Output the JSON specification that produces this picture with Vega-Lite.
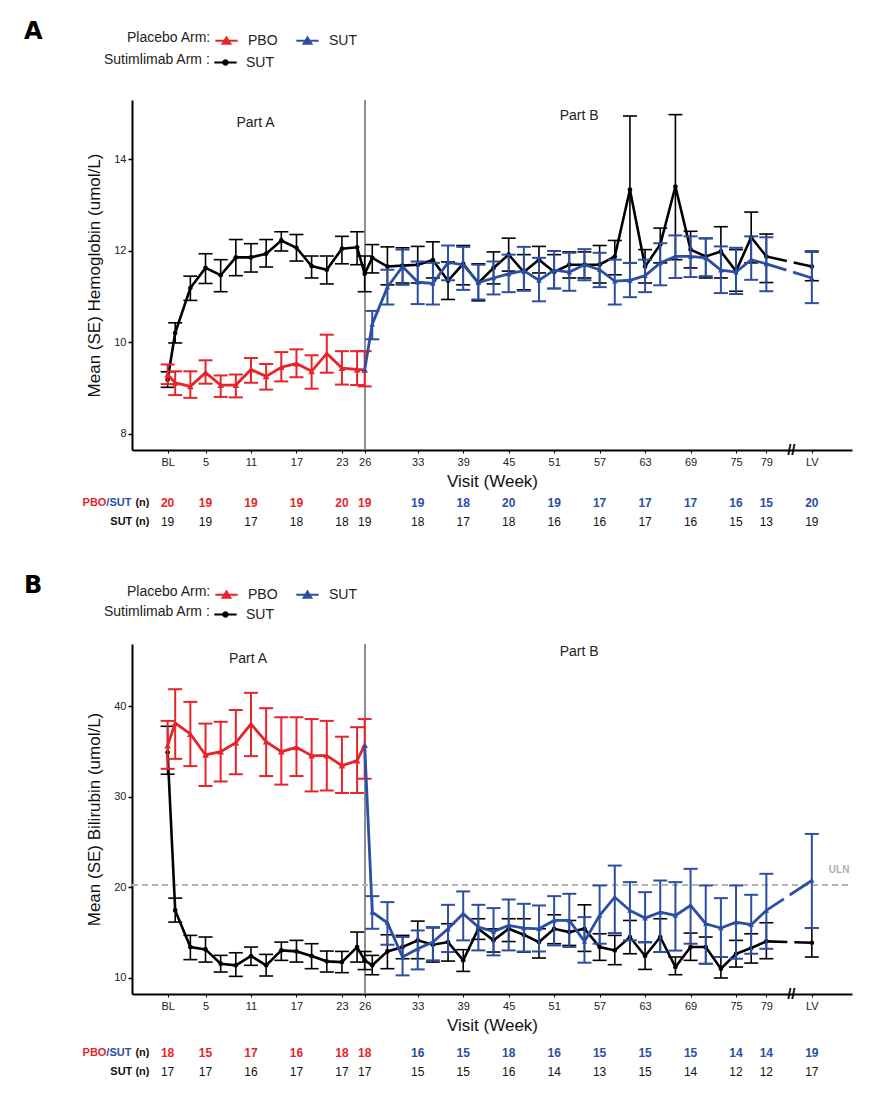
{
"$schema": "https://vega.github.io/schema/vega-lite/v6.json",
"padding": {"left": 24, "top": 20, "right": 5, "bottom": 5},
"background": "white",
"config": {"view": {"stroke": null}, "font": "Liberation Sans"},
"spacing": 43,
"resolve": {"scale": {"color": "shared", "stroke": "shared"}, "legend": {"color": "independent", "stroke": "independent"}},
"datasets": {
"hgb": [
{"week":0,"series":"SUT_A","mean":9.19,"lo":9.02,"hi":9.36},{"week":1,"series":"SUT_A","mean":10.21,"lo":9.99,"hi":10.43},{"week":3,"series":"SUT_A","mean":11.19,"lo":10.92,"hi":11.45},{"week":5,"series":"SUT_A","mean":11.63,"lo":11.29,"hi":11.94},{"week":7,"series":"SUT_A","mean":11.47,"lo":11.11,"hi":11.81},{"week":9,"series":"SUT_A","mean":11.86,"lo":11.46,"hi":12.25},{"week":11,"series":"SUT_A","mean":11.86,"lo":11.54,"hi":12.16},{"week":13,"series":"SUT_A","mean":11.94,"lo":11.65,"hi":12.25},{"week":15,"series":"SUT_A","mean":12.23,"lo":12.0,"hi":12.42},{"week":17,"series":"SUT_A","mean":12.07,"lo":11.78,"hi":12.36},{"week":19,"series":"SUT_A","mean":11.67,"lo":11.41,"hi":11.89},{"week":21,"series":"SUT_A","mean":11.59,"lo":11.28,"hi":11.89},{"week":23,"series":"SUT_A","mean":12.05,"lo":11.72,"hi":12.32},{"week":25,"series":"SUT_A","mean":12.08,"lo":11.7,"hi":12.42},{"week":26,"series":"SUT_A","mean":11.5,"lo":11.11,"hi":11.89},{"week":27,"series":"SUT_A","mean":11.85,"lo":11.52,"hi":12.14},{"week":29,"series":"SUT_A","mean":11.66,"lo":11.26,"hi":12.09},{"week":31,"series":"SUT_A","mean":11.68,"lo":11.3,"hi":12.07},{"week":33,"series":"SUT_A","mean":11.7,"lo":11.3,"hi":12.1},{"week":35,"series":"SUT_A","mean":11.8,"lo":11.41,"hi":12.2},{"week":37,"series":"SUT_A","mean":11.35,"lo":10.94,"hi":11.76},{"week":39,"series":"SUT_A","mean":11.72,"lo":11.26,"hi":12.12},{"week":41,"series":"SUT_A","mean":11.3,"lo":10.91,"hi":11.72},{"week":43,"series":"SUT_A","mean":11.63,"lo":11.28,"hi":11.98},{"week":45,"series":"SUT_A","mean":11.92,"lo":11.56,"hi":12.28},{"week":47,"series":"SUT_A","mean":11.54,"lo":11.15,"hi":11.92},{"week":49,"series":"SUT_A","mean":11.81,"lo":11.52,"hi":12.1},{"week":51,"series":"SUT_A","mean":11.54,"lo":11.18,"hi":11.92},{"week":53,"series":"SUT_A","mean":11.7,"lo":11.41,"hi":11.98},{"week":55,"series":"SUT_A","mean":11.7,"lo":11.41,"hi":11.98},{"week":57,"series":"SUT_A","mean":11.7,"lo":11.3,"hi":12.12},{"week":59,"series":"SUT_A","mean":11.88,"lo":11.48,"hi":12.23},{"week":61,"series":"SUT_A","mean":13.34,"lo":11.74,"hi":14.95},{"week":63,"series":"SUT_A","mean":11.66,"lo":11.3,"hi":12.03},{"week":65,"series":"SUT_A","mean":12.14,"lo":11.74,"hi":12.5},{"week":67,"series":"SUT_A","mean":13.41,"lo":11.81,"hi":14.98},{"week":69,"series":"SUT_A","mean":12.03,"lo":11.63,"hi":12.43},{"week":71,"series":"SUT_A","mean":11.88,"lo":11.41,"hi":12.28},{"week":73,"series":"SUT_A","mean":11.99,"lo":11.41,"hi":12.53},{"week":75,"series":"SUT_A","mean":11.56,"lo":11.12,"hi":12.03},{"week":77,"series":"SUT_A","mean":12.3,"lo":11.74,"hi":12.85},{"week":79,"series":"SUT_A","mean":11.88,"lo":11.31,"hi":12.37},{"week":85,"series":"SUT_A","mean":11.66,"lo":11.35,"hi":11.98},
{"week":0,"series":"PBO","mean":9.3,"lo":9.09,"hi":9.52},{"week":1,"series":"PBO","mean":9.12,"lo":8.85,"hi":9.37},{"week":3,"series":"PBO","mean":9.04,"lo":8.79,"hi":9.37},{"week":5,"series":"PBO","mean":9.34,"lo":9.1,"hi":9.61},{"week":7,"series":"PBO","mean":9.07,"lo":8.81,"hi":9.28},{"week":9,"series":"PBO","mean":9.07,"lo":8.8,"hi":9.3},{"week":11,"series":"PBO","mean":9.41,"lo":9.12,"hi":9.66},{"week":13,"series":"PBO","mean":9.26,"lo":8.97,"hi":9.53},{"week":15,"series":"PBO","mean":9.46,"lo":9.15,"hi":9.79},{"week":17,"series":"PBO","mean":9.54,"lo":9.24,"hi":9.85},{"week":19,"series":"PBO","mean":9.37,"lo":8.99,"hi":9.72},{"week":21,"series":"PBO","mean":9.76,"lo":9.34,"hi":10.17},{"week":23,"series":"PBO","mean":9.44,"lo":9.08,"hi":9.81},{"week":25,"series":"PBO","mean":9.41,"lo":9.07,"hi":9.81},{"week":26,"series":"PBO","mean":9.4,"lo":9.04,"hi":9.81},
{"week":26,"series":"SUT_B","mean":9.4,"lo":null,"hi":null},{"week":27,"series":"SUT_B","mean":10.4,"lo":10.07,"hi":10.69},{"week":29,"series":"SUT_B","mean":11.21,"lo":10.83,"hi":11.59},{"week":31,"series":"SUT_B","mean":11.66,"lo":11.26,"hi":12.03},{"week":33,"series":"SUT_B","mean":11.32,"lo":10.84,"hi":11.77},{"week":35,"series":"SUT_B","mean":11.29,"lo":10.83,"hi":11.74},{"week":37,"series":"SUT_B","mean":11.75,"lo":11.36,"hi":12.12},{"week":39,"series":"SUT_B","mean":11.7,"lo":11.15,"hi":12.09},{"week":41,"series":"SUT_B","mean":11.31,"lo":10.94,"hi":11.7},{"week":43,"series":"SUT_B","mean":11.41,"lo":11.05,"hi":11.77},{"week":45,"series":"SUT_B","mean":11.5,"lo":11.1,"hi":11.92},{"week":47,"series":"SUT_B","mean":11.57,"lo":11.13,"hi":12.09},{"week":49,"series":"SUT_B","mean":11.36,"lo":10.9,"hi":11.85},{"week":51,"series":"SUT_B","mean":11.58,"lo":11.18,"hi":12.0},{"week":53,"series":"SUT_B","mean":11.54,"lo":11.13,"hi":11.96},{"week":55,"series":"SUT_B","mean":11.7,"lo":11.36,"hi":12.04},{"week":57,"series":"SUT_B","mean":11.59,"lo":11.21,"hi":11.96},{"week":59,"series":"SUT_B","mean":11.34,"lo":10.83,"hi":11.81},{"week":61,"series":"SUT_B","mean":11.36,"lo":10.99,"hi":11.74},{"week":63,"series":"SUT_B","mean":11.46,"lo":11.1,"hi":11.81},{"week":65,"series":"SUT_B","mean":11.74,"lo":11.25,"hi":12.17},{"week":67,"series":"SUT_B","mean":11.88,"lo":11.41,"hi":12.34},{"week":69,"series":"SUT_B","mean":11.88,"lo":11.43,"hi":12.32},{"week":71,"series":"SUT_B","mean":11.85,"lo":11.45,"hi":12.27},{"week":73,"series":"SUT_B","mean":11.58,"lo":11.08,"hi":12.1},{"week":75,"series":"SUT_B","mean":11.54,"lo":11.06,"hi":12.07},{"week":77,"series":"SUT_B","mean":11.81,"lo":11.37,"hi":12.32},{"week":79,"series":"SUT_B","mean":11.72,"lo":11.12,"hi":12.3},{"week":85,"series":"SUT_B","mean":11.41,"lo":10.86,"hi":12.0}
],
"bili": [
{"week":0,"series":"SUT_A","mean":34.92,"lo":32.5,"hi":37.8},{"week":1,"series":"SUT_A","mean":17.44,"lo":16.15,"hi":18.8},{"week":3,"series":"SUT_A","mean":13.39,"lo":12.0,"hi":14.68},{"week":5,"series":"SUT_A","mean":13.13,"lo":11.73,"hi":14.5},{"week":7,"series":"SUT_A","mean":11.55,"lo":10.63,"hi":12.47},{"week":9,"series":"SUT_A","mean":11.37,"lo":10.15,"hi":12.76},{"week":11,"series":"SUT_A","mean":12.4,"lo":11.37,"hi":13.39},{"week":13,"series":"SUT_A","mean":11.37,"lo":10.19,"hi":12.58},{"week":15,"series":"SUT_A","mean":13.02,"lo":11.92,"hi":13.94},{"week":17,"series":"SUT_A","mean":12.91,"lo":11.73,"hi":14.13},{"week":19,"series":"SUT_A","mean":12.4,"lo":11.0,"hi":13.76},{"week":21,"series":"SUT_A","mean":11.81,"lo":10.63,"hi":12.95},{"week":23,"series":"SUT_A","mean":11.73,"lo":10.56,"hi":12.91},{"week":25,"series":"SUT_A","mean":13.39,"lo":11.73,"hi":15.05},{"week":26,"series":"SUT_A","mean":11.92,"lo":10.9,"hi":12.9},{"week":27,"series":"SUT_A","mean":11.37,"lo":10.33,"hi":12.47},{"week":29,"series":"SUT_A","mean":12.91,"lo":11.0,"hi":14.75},{"week":31,"series":"SUT_A","mean":13.39,"lo":12.1,"hi":14.68},{"week":33,"series":"SUT_A","mean":14.13,"lo":12.1,"hi":16.26},{"week":35,"series":"SUT_A","mean":13.65,"lo":11.73,"hi":15.52},{"week":37,"series":"SUT_A","mean":13.94,"lo":11.84,"hi":15.97},{"week":39,"series":"SUT_A","mean":11.92,"lo":10.7,"hi":13.1},{"week":41,"series":"SUT_A","mean":15.41,"lo":14.24,"hi":16.52},{"week":43,"series":"SUT_A","mean":14.13,"lo":12.84,"hi":15.41},{"week":45,"series":"SUT_A","mean":15.41,"lo":14.0,"hi":16.52},{"week":47,"series":"SUT_A","mean":14.75,"lo":12.84,"hi":16.52},{"week":49,"series":"SUT_A","mean":13.94,"lo":12.18,"hi":15.41},{"week":51,"series":"SUT_A","mean":15.41,"lo":13.76,"hi":16.96},{"week":53,"series":"SUT_A","mean":15.05,"lo":13.57,"hi":16.33},{"week":55,"series":"SUT_A","mean":15.41,"lo":12.91,"hi":18.06},{"week":57,"series":"SUT_A","mean":13.39,"lo":11.92,"hi":14.86},{"week":59,"series":"SUT_A","mean":13.02,"lo":11.44,"hi":14.68},{"week":61,"series":"SUT_A","mean":14.5,"lo":12.65,"hi":16.33},{"week":63,"series":"SUT_A","mean":12.4,"lo":10.92,"hi":13.94},{"week":65,"series":"SUT_A","mean":14.5,"lo":12.84,"hi":16.52},{"week":67,"series":"SUT_A","mean":11.18,"lo":10.33,"hi":12.29},{"week":69,"series":"SUT_A","mean":13.39,"lo":11.92,"hi":14.94},{"week":71,"series":"SUT_A","mean":13.39,"lo":11.55,"hi":14.5},{"week":73,"series":"SUT_A","mean":11.0,"lo":9.97,"hi":12.29},{"week":75,"series":"SUT_A","mean":12.65,"lo":11.18,"hi":14.13},{"week":77,"series":"SUT_A","mean":13.28,"lo":11.62,"hi":14.86},{"week":79,"series":"SUT_A","mean":14.02,"lo":12.1,"hi":16.08},{"week":85,"series":"SUT_A","mean":13.87,"lo":12.29,"hi":15.49},
{"week":0,"series":"PBO","mean":35.66,"lo":33.1,"hi":38.4},{"week":1,"series":"PBO","mean":38.16,"lo":34.2,"hi":41.9},{"week":3,"series":"PBO","mean":36.95,"lo":33.4,"hi":40.5},{"week":5,"series":"PBO","mean":34.63,"lo":31.2,"hi":38.1},{"week":7,"series":"PBO","mean":35.0,"lo":31.7,"hi":38.3},{"week":9,"series":"PBO","mean":36.0,"lo":32.5,"hi":39.6},{"week":11,"series":"PBO","mean":38.05,"lo":34.5,"hi":41.5},{"week":13,"series":"PBO","mean":36.1,"lo":32.3,"hi":39.8},{"week":15,"series":"PBO","mean":35.0,"lo":31.35,"hi":38.8},{"week":17,"series":"PBO","mean":35.47,"lo":32.3,"hi":38.8},{"week":19,"series":"PBO","mean":34.55,"lo":30.6,"hi":38.6},{"week":21,"series":"PBO","mean":34.55,"lo":30.7,"hi":38.4},{"week":23,"series":"PBO","mean":33.45,"lo":30.43,"hi":36.65},{"week":25,"series":"PBO","mean":34.0,"lo":30.43,"hi":37.7},{"week":26,"series":"PBO","mean":35.73,"lo":32.0,"hi":38.6},
{"week":26,"series":"SUT_B","mean":35.73,"lo":null,"hi":null},{"week":27,"series":"SUT_B","mean":17.25,"lo":15.41,"hi":19.02},{"week":29,"series":"SUT_B","mean":16.08,"lo":13.65,"hi":18.36},{"week":31,"series":"SUT_B","mean":12.29,"lo":10.26,"hi":14.5},{"week":33,"series":"SUT_B","mean":13.2,"lo":10.92,"hi":15.23},{"week":35,"series":"SUT_B","mean":13.94,"lo":11.92,"hi":15.6},{"week":37,"series":"SUT_B","mean":15.41,"lo":12.84,"hi":18.06},{"week":39,"series":"SUT_B","mean":17.07,"lo":14.13,"hi":19.54},{"week":41,"series":"SUT_B","mean":15.6,"lo":13.02,"hi":18.06},{"week":43,"series":"SUT_B","mean":15.12,"lo":12.47,"hi":17.7},{"week":45,"series":"SUT_B","mean":15.78,"lo":13.02,"hi":18.65},{"week":47,"series":"SUT_B","mean":15.49,"lo":12.9,"hi":18.17},{"week":49,"series":"SUT_B","mean":15.41,"lo":12.9,"hi":17.99},{"week":51,"series":"SUT_B","mean":16.33,"lo":13.57,"hi":19.02},{"week":53,"series":"SUT_B","mean":16.33,"lo":13.4,"hi":19.28},{"week":55,"series":"SUT_B","mean":14.02,"lo":11.66,"hi":16.7},{"week":57,"series":"SUT_B","mean":16.89,"lo":13.76,"hi":20.2},{"week":59,"series":"SUT_B","mean":18.91,"lo":14.94,"hi":22.4},{"week":61,"series":"SUT_B","mean":17.44,"lo":14.13,"hi":20.57},{"week":63,"series":"SUT_B","mean":16.59,"lo":13.9,"hi":19.46},{"week":65,"series":"SUT_B","mean":17.25,"lo":12.84,"hi":20.75},{"week":67,"series":"SUT_B","mean":16.89,"lo":13.0,"hi":20.57},{"week":69,"series":"SUT_B","mean":17.99,"lo":13.76,"hi":22.04},{"week":71,"series":"SUT_B","mean":15.97,"lo":11.55,"hi":20.2},{"week":73,"series":"SUT_B","mean":15.49,"lo":12.29,"hi":18.8},{"week":75,"series":"SUT_B","mean":16.15,"lo":12.1,"hi":20.2},{"week":77,"series":"SUT_B","mean":15.86,"lo":12.65,"hi":19.17},{"week":79,"series":"SUT_B","mean":17.44,"lo":13.2,"hi":21.49},{"week":85,"series":"SUT_B","mean":20.75,"lo":15.49,"hi":25.9}
],
"annA": [{"week":11.6,"mean":14.8,"label":"Part A","kind":"part"},{"week":54.3,"mean":14.95,"label":"Part B","kind":"part"},{"week":82.3,"mean":7.65,"label":"//","kind":"brk"}],
"annB": [{"week":10.6,"mean":45.2,"label":"Part A","kind":"part"},{"week":54.3,"mean":46.0,"label":"Part B","kind":"part"},{"week":88.6,"mean":21.9,"label":"ULN","kind":"uln"},{"week":82.3,"mean":8.2,"label":"//","kind":"brk"}],
"nA": [
{"week":0,"row":"PBO/SUT (n)","n":20,"grp":"PBO"},{"week":5,"row":"PBO/SUT (n)","n":19,"grp":"PBO"},{"week":11,"row":"PBO/SUT (n)","n":19,"grp":"PBO"},{"week":17,"row":"PBO/SUT (n)","n":19,"grp":"PBO"},{"week":23,"row":"PBO/SUT (n)","n":20,"grp":"PBO"},{"week":26,"row":"PBO/SUT (n)","n":19,"grp":"PBO"},{"week":33,"row":"PBO/SUT (n)","n":19,"grp":"SUT_B"},{"week":39,"row":"PBO/SUT (n)","n":18,"grp":"SUT_B"},{"week":45,"row":"PBO/SUT (n)","n":20,"grp":"SUT_B"},{"week":51,"row":"PBO/SUT (n)","n":19,"grp":"SUT_B"},{"week":57,"row":"PBO/SUT (n)","n":17,"grp":"SUT_B"},{"week":63,"row":"PBO/SUT (n)","n":17,"grp":"SUT_B"},{"week":69,"row":"PBO/SUT (n)","n":17,"grp":"SUT_B"},{"week":75,"row":"PBO/SUT (n)","n":16,"grp":"SUT_B"},{"week":79,"row":"PBO/SUT (n)","n":15,"grp":"SUT_B"},{"week":85,"row":"PBO/SUT (n)","n":20,"grp":"SUT_B"},
{"week":0,"row":"SUT (n)","n":19,"grp":"SUT_A"},{"week":5,"row":"SUT (n)","n":19,"grp":"SUT_A"},{"week":11,"row":"SUT (n)","n":17,"grp":"SUT_A"},{"week":17,"row":"SUT (n)","n":18,"grp":"SUT_A"},{"week":23,"row":"SUT (n)","n":18,"grp":"SUT_A"},{"week":26,"row":"SUT (n)","n":19,"grp":"SUT_A"},{"week":33,"row":"SUT (n)","n":18,"grp":"SUT_A"},{"week":39,"row":"SUT (n)","n":17,"grp":"SUT_A"},{"week":45,"row":"SUT (n)","n":18,"grp":"SUT_A"},{"week":51,"row":"SUT (n)","n":16,"grp":"SUT_A"},{"week":57,"row":"SUT (n)","n":16,"grp":"SUT_A"},{"week":63,"row":"SUT (n)","n":17,"grp":"SUT_A"},{"week":69,"row":"SUT (n)","n":16,"grp":"SUT_A"},{"week":75,"row":"SUT (n)","n":15,"grp":"SUT_A"},{"week":79,"row":"SUT (n)","n":13,"grp":"SUT_A"},{"week":85,"row":"SUT (n)","n":19,"grp":"SUT_A"}
],
"nB": [
{"week":0,"row":"PBO/SUT (n)","n":18,"grp":"PBO"},{"week":5,"row":"PBO/SUT (n)","n":15,"grp":"PBO"},{"week":11,"row":"PBO/SUT (n)","n":17,"grp":"PBO"},{"week":17,"row":"PBO/SUT (n)","n":16,"grp":"PBO"},{"week":23,"row":"PBO/SUT (n)","n":18,"grp":"PBO"},{"week":26,"row":"PBO/SUT (n)","n":18,"grp":"PBO"},{"week":33,"row":"PBO/SUT (n)","n":16,"grp":"SUT_B"},{"week":39,"row":"PBO/SUT (n)","n":15,"grp":"SUT_B"},{"week":45,"row":"PBO/SUT (n)","n":18,"grp":"SUT_B"},{"week":51,"row":"PBO/SUT (n)","n":16,"grp":"SUT_B"},{"week":57,"row":"PBO/SUT (n)","n":15,"grp":"SUT_B"},{"week":63,"row":"PBO/SUT (n)","n":15,"grp":"SUT_B"},{"week":69,"row":"PBO/SUT (n)","n":15,"grp":"SUT_B"},{"week":75,"row":"PBO/SUT (n)","n":14,"grp":"SUT_B"},{"week":79,"row":"PBO/SUT (n)","n":14,"grp":"SUT_B"},{"week":85,"row":"PBO/SUT (n)","n":19,"grp":"SUT_B"},
{"week":0,"row":"SUT (n)","n":17,"grp":"SUT_A"},{"week":5,"row":"SUT (n)","n":17,"grp":"SUT_A"},{"week":11,"row":"SUT (n)","n":16,"grp":"SUT_A"},{"week":17,"row":"SUT (n)","n":17,"grp":"SUT_A"},{"week":23,"row":"SUT (n)","n":17,"grp":"SUT_A"},{"week":26,"row":"SUT (n)","n":17,"grp":"SUT_A"},{"week":33,"row":"SUT (n)","n":15,"grp":"SUT_A"},{"week":39,"row":"SUT (n)","n":15,"grp":"SUT_A"},{"week":45,"row":"SUT (n)","n":16,"grp":"SUT_A"},{"week":51,"row":"SUT (n)","n":14,"grp":"SUT_A"},{"week":57,"row":"SUT (n)","n":13,"grp":"SUT_A"},{"week":63,"row":"SUT (n)","n":15,"grp":"SUT_A"},{"week":69,"row":"SUT (n)","n":14,"grp":"SUT_A"},{"week":75,"row":"SUT (n)","n":12,"grp":"SUT_A"},{"week":79,"row":"SUT (n)","n":12,"grp":"SUT_A"},{"week":85,"row":"SUT (n)","n":17,"grp":"SUT_A"}
],
"rowlab": [{"row":"PBO/SUT (n)","part":"a","text":"PBO","grp":"PBO"},{"row":"PBO/SUT (n)","part":"b","text":"/SUT","grp":"SUT_B"},{"row":"PBO/SUT (n)","part":"c","text":"(n)","grp":"SUT_A"},{"row":"SUT (n)","part":"c","text":"SUT (n)","grp":"SUT_A"}]
},
"vconcat": [
{"spacing": 4,
 "resolve": {"scale": {"color": "shared", "stroke": "shared"}, "legend": {"color": "independent", "stroke": "independent"}},
 "vconcat": [
 {"title": {"text": "A", "anchor": "start", "frame": "group", "fontSize": 24, "fontWeight": 900, "font": "DejaVu Sans", "color": "#000", "dx": -108, "dy": 20},
  "width": 720, "height": 350,
  "data": {"name": "hgb"},
  "encoding": {
   "x": {"field": "week", "type": "quantitative", "title": "Visit (Week)", "scale": {"domain": [-4.7, 90.3], "nice": false, "zero": false},
     "axis": {"values": [0,5,11,17,23,26,33,39,45,51,57,63,69,75,79,85], "labelExpr": "datum.value == 0 ? 'BL' : (datum.value == 85 ? 'LV' : datum.label)", "grid": false, "domainColor": "#000", "domainWidth": 2, "tickColor": "#000", "tickSize": 3, "labelFont": "Liberation Sans Narrow, Liberation Sans", "labelFontSize": 11, "labelColor": "#222", "labelPadding": 3, "labelOverlap": false, "labelFlush": false, "titleFont": "Liberation Sans Narrow, Liberation Sans", "titleFontSize": 17, "titleFontWeight": "normal", "titleColor": "#111", "titlePadding": 6}},
   "y": {"field": "mean", "type": "quantitative", "title": "Mean (SE) Hemoglobin (umol/L)", "scale": {"domain": [7.65, 15.3], "nice": false, "zero": false},
     "axis": {"values": [8,10,12,14], "grid": false, "domainColor": "#000", "domainWidth": 2, "tickColor": "#000", "tickSize": 4, "tickWidth": 1.5, "labelFont": "Liberation Sans Narrow, Liberation Sans", "labelFontSize": 11, "labelColor": "#222", "titleFont": "Liberation Sans", "titleFontSize": 17, "titleFontWeight": "normal", "titleColor": "#111", "titlePadding": 10}}
  },
  "layer": [
   {"mark": {"type": "rule", "color": "#8f8f8f", "strokeWidth": 1.2}, "encoding": {"x": {"datum": 26, "type": "quantitative"}, "y": {"datum": 7.65, "type": "quantitative"}, "y2": {"datum": 15.3}}},
   {"data": {"name": "annA"}, "transform": [{"filter": "datum.kind == 'part'"}], "mark": {"type": "text", "fontSize": 14, "font": "Liberation Sans", "color": "#222"}, "encoding": {"text": {"field": "label"}}},
   {"transform": [{"filter": "datum.series == 'SUT_A'"}], "mark": {"type": "errorbar", "ticks": true, "size": 14, "thickness": 1.6}, "encoding": {"y": {"field": "lo", "type": "quantitative", "title": "Mean (SE) Hemoglobin (umol/L)", "scale": {"domain": [7.65, 15.3], "nice": false, "zero": false}}, "y2": {"field": "hi"}, "color": {"value": "#000000"}, "opacity": {"value": 1}}},
   {"transform": [{"filter": "datum.series == 'SUT_A' && datum.week <= 79"}], "mark": {"type": "line", "strokeWidth": 2.6}, "encoding": {"stroke": {"field": "series", "type": "nominal", "scale": {"domain": ["SUT_A"], "range": ["#000000"]}, "legend": {"title": "Sutimlimab Arm :", "orient": "none", "legendX": -28, "legendY": -50, "direction": "horizontal", "titleOrient": "left", "labelExpr": "'SUT'", "symbolType": "M-1,0H1M-0.2,0A0.2,0.2 0 1,0 0.2,0A0.2,0.2 0 1,0 -0.2,0", "symbolSize": 500, "symbolStrokeWidth": 2, "titleFont": "Liberation Sans", "titleFontSize": 14, "titleFontWeight": "normal", "titleColor": "#222", "labelFont": "Liberation Sans", "labelFontSize": 14, "labelColor": "#222", "labelOffset": 8, "titlePadding": 2, "encode": {"symbols": {"update": {"fill": {"value": "#000000"}, "stroke": {"value": "#000000"}}}}}}}},
   {"transform": [{"filter": "datum.series == 'SUT_A' && datum.week >= 79"}], "mark": {"type": "line", "strokeWidth": 2.6, "color": "#000000", "strokeDash": [21, 7, 100]}},
   {"transform": [{"filter": "datum.series == 'SUT_A'"}], "mark": {"type": "point", "shape": "circle", "filled": true, "size": 22, "color": "#000000", "opacity": 1}},
   {"transform": [{"filter": "datum.series == 'PBO'"}], "mark": {"type": "errorbar", "ticks": true, "size": 14, "thickness": 2}, "encoding": {"y": {"field": "lo", "type": "quantitative", "title": "Mean (SE) Hemoglobin (umol/L)", "scale": {"domain": [7.65, 15.3], "nice": false, "zero": false}}, "y2": {"field": "hi"}, "color": {"value": "#e8242b"}, "opacity": {"value": 1}}},
   {"transform": [{"filter": "datum.series == 'SUT_B' && isValid(datum.lo)"}], "mark": {"type": "errorbar", "ticks": true, "size": 14, "thickness": 2}, "encoding": {"y": {"field": "lo", "type": "quantitative", "title": "Mean (SE) Hemoglobin (umol/L)", "scale": {"domain": [7.65, 15.3], "nice": false, "zero": false}}, "y2": {"field": "hi"}, "color": {"value": "#2c4ea3"}, "opacity": {"value": 1}}},
   {"transform": [{"filter": "(datum.series == 'PBO' || datum.series == 'SUT_B') && datum.week <= 79"}], "mark": {"type": "line", "strokeWidth": 2.8}, "encoding": {"color": {"field": "series", "type": "nominal", "scale": {"domain": ["PBO", "SUT_B", "SUT_A"], "range": ["#e8242b", "#2c4ea3", "#000000"]}, "legend": {"title": "Placebo Arm:", "orient": "none", "legendX": -5, "legendY": -72, "direction": "horizontal", "titleOrient": "left", "values": ["PBO", "SUT_B"], "labelExpr": "datum.value == 'PBO' ? 'PBO' : 'SUT'", "symbolType": "M-1,0H1M-0.35,0.28L0,-0.3L0.35,0.28Z", "symbolSize": 500, "symbolStrokeWidth": 2, "titleFont": "Liberation Sans", "titleFontSize": 14, "titleFontWeight": "normal", "titleColor": "#222", "labelFont": "Liberation Sans", "labelFontSize": 14, "labelColor": "#222", "labelOffset": 9, "columnPadding": 14, "titlePadding": 2, "encode": {"symbols": {"update": {"fill": {"scale": "color", "field": "value"}, "stroke": {"scale": "color", "field": "value"}}}}}}}},
   {"transform": [{"filter": "datum.series == 'SUT_B' && datum.week >= 79"}], "mark": {"type": "line", "strokeWidth": 2.8, "color": "#2c4ea3", "strokeDash": [21, 7, 100]}},
   {"transform": [{"filter": "datum.series == 'PBO'"}], "mark": {"type": "point", "shape": "triangle-up", "filled": true, "size": 45, "color": "#e8242b", "opacity": 1}},
   {"transform": [{"filter": "datum.series == 'SUT_B'"}], "mark": {"type": "point", "shape": "triangle-up", "filled": true, "size": 30, "color": "#2c4ea3", "opacity": 1}},
   {"data": {"name": "annA"}, "transform": [{"filter": "datum.kind == 'brk'"}], "mark": {"type": "text", "fontSize": 15, "fontWeight": "bold", "font": "Liberation Sans", "color": "#000"}, "encoding": {"text": {"field": "label"}}}
  ]
 },
 {"width": 720, "height": 38,
  "layer": [
   {"data": {"name": "nA"}, "transform": [{"filter": "datum.row == 'PBO/SUT (n)'"}], "mark": {"type": "text", "fontSize": 12, "fontWeight": "bold", "font": "Liberation Sans"}, "encoding": {"x": {"field": "week", "type": "quantitative", "scale": {"domain": [-4.7, 90.3], "nice": false, "zero": false}, "axis": null}, "y": {"field": "row", "type": "nominal", "scale": {"domain": ["PBO/SUT (n)", "SUT (n)"]}, "axis": null}, "text": {"field": "n"}, "color": {"field": "grp", "type": "nominal", "scale": {"domain": ["PBO", "SUT_B", "SUT_A"], "range": ["#e8242b", "#2c4ea3", "#000000"]}, "legend": null}}},
   {"data": {"name": "nA"}, "transform": [{"filter": "datum.row == 'SUT (n)'"}], "mark": {"type": "text", "fontSize": 12, "font": "Liberation Sans", "color": "#111"}, "encoding": {"x": {"field": "week", "type": "quantitative", "scale": {"domain": [-4.7, 90.3], "nice": false, "zero": false}, "axis": null}, "y": {"field": "row", "type": "nominal", "scale": {"domain": ["PBO/SUT (n)", "SUT (n)"]}, "axis": null}, "text": {"field": "n"}}},
   {"data": {"name": "rowlab"}, "transform": [{"filter": "datum.part == 'c'"}], "mark": {"type": "text", "fontSize": 11, "fontWeight": "bold", "font": "Liberation Sans", "align": "right", "color": "#111"}, "encoding": {"x": {"datum": -2.4, "type": "quantitative"}, "y": {"field": "row", "type": "nominal"}, "text": {"field": "text"}}},
   {"data": {"name": "rowlab"}, "transform": [{"filter": "datum.part == 'b'"}], "mark": {"type": "text", "fontSize": 11, "fontWeight": "bold", "font": "Liberation Sans", "align": "right", "color": "#2c4ea3", "dx": -18}, "encoding": {"x": {"datum": -2.4, "type": "quantitative"}, "y": {"field": "row", "type": "nominal"}, "text": {"field": "text"}}},
   {"data": {"name": "rowlab"}, "transform": [{"filter": "datum.part == 'a'"}], "mark": {"type": "text", "fontSize": 11, "fontWeight": "bold", "font": "Liberation Sans", "align": "right", "color": "#e8242b", "dx": -43}, "encoding": {"x": {"datum": -2.4, "type": "quantitative"}, "y": {"field": "row", "type": "nominal"}, "text": {"field": "text"}}}
  ]
 }
 ]
},
{"spacing": 10,
 "resolve": {"scale": {"color": "shared", "stroke": "shared"}, "legend": {"color": "independent", "stroke": "independent"}},
 "vconcat": [
 {"title": {"text": "B", "anchor": "start", "frame": "group", "fontSize": 24, "fontWeight": 900, "font": "DejaVu Sans", "color": "#000", "dx": -108, "dy": 20},
  "width": 720, "height": 350,
  "data": {"name": "bili"},
  "encoding": {
   "x": {"field": "week", "type": "quantitative", "title": "Visit (Week)", "scale": {"domain": [-4.7, 90.3], "nice": false, "zero": false},
     "axis": {"values": [0,5,11,17,23,26,33,39,45,51,57,63,69,75,79,85], "labelExpr": "datum.value == 0 ? 'BL' : (datum.value == 85 ? 'LV' : datum.label)", "grid": false, "domainColor": "#000", "domainWidth": 2, "tickColor": "#000", "tickSize": 3, "labelFont": "Liberation Sans Narrow, Liberation Sans", "labelFontSize": 11, "labelColor": "#222", "labelPadding": 3, "labelOverlap": false, "labelFlush": false, "titleFont": "Liberation Sans Narrow, Liberation Sans", "titleFontSize": 17, "titleFontWeight": "normal", "titleColor": "#111", "titlePadding": 6}},
   "y": {"field": "mean", "type": "quantitative", "title": "Mean (SE) Bilirubin (umol/L)", "scale": {"domain": [8.2, 46.9], "nice": false, "zero": false},
     "axis": {"values": [10,20,30,40], "grid": false, "domainColor": "#000", "domainWidth": 2, "tickColor": "#000", "tickSize": 4, "tickWidth": 1.5, "labelFont": "Liberation Sans Narrow, Liberation Sans", "labelFontSize": 11, "labelColor": "#222", "titleFont": "Liberation Sans", "titleFontSize": 17, "titleFontWeight": "normal", "titleColor": "#111", "titlePadding": 10}}
  },
  "layer": [
   {"mark": {"type": "rule", "color": "#8f8f8f", "strokeWidth": 1.2}, "encoding": {"x": {"datum": 26, "type": "quantitative"}, "y": {"datum": 8.2, "type": "quantitative"}, "y2": {"datum": 46.9}}},
   {"mark": {"type": "rule", "color": "#b5b5b5", "strokeWidth": 1.3, "strokeDash": [6, 4]}, "encoding": {"x": {"datum": -4.7, "type": "quantitative"}, "x2": {"datum": 90.3}, "y": {"datum": 20.2, "type": "quantitative"}}},
   {"data": {"name": "annB"}, "transform": [{"filter": "datum.kind == 'part'"}], "mark": {"type": "text", "fontSize": 14, "font": "Liberation Sans", "color": "#222"}, "encoding": {"text": {"field": "label"}}},
   {"data": {"name": "annB"}, "transform": [{"filter": "datum.kind == 'uln'"}], "mark": {"type": "text", "fontSize": 10, "fontWeight": "bold", "font": "Liberation Sans", "color": "#b0b0b0"}, "encoding": {"text": {"field": "label"}}},
   {"transform": [{"filter": "datum.series == 'SUT_A'"}], "mark": {"type": "errorbar", "ticks": true, "size": 14, "thickness": 1.6}, "encoding": {"y": {"field": "lo", "type": "quantitative", "title": "Mean (SE) Bilirubin (umol/L)", "scale": {"domain": [8.2, 46.9], "nice": false, "zero": false}}, "y2": {"field": "hi"}, "color": {"value": "#000000"}, "opacity": {"value": 1}}},
   {"transform": [{"filter": "datum.series == 'SUT_A' && datum.week <= 79"}], "mark": {"type": "line", "strokeWidth": 2.6}, "encoding": {"stroke": {"field": "series", "type": "nominal", "scale": {"domain": ["SUT_A"], "range": ["#000000"]}, "legend": {"title": "Sutimlimab Arm :", "orient": "none", "legendX": -28, "legendY": -42, "direction": "horizontal", "titleOrient": "left", "labelExpr": "'SUT'", "symbolType": "M-1,0H1M-0.2,0A0.2,0.2 0 1,0 0.2,0A0.2,0.2 0 1,0 -0.2,0", "symbolSize": 500, "symbolStrokeWidth": 2, "titleFont": "Liberation Sans", "titleFontSize": 14, "titleFontWeight": "normal", "titleColor": "#222", "labelFont": "Liberation Sans", "labelFontSize": 14, "labelColor": "#222", "labelOffset": 8, "titlePadding": 2, "encode": {"symbols": {"update": {"fill": {"value": "#000000"}, "stroke": {"value": "#000000"}}}}}}}},
   {"transform": [{"filter": "datum.series == 'SUT_A' && datum.week >= 79"}], "mark": {"type": "line", "strokeWidth": 2.6, "color": "#000000", "strokeDash": [21, 7, 100]}},
   {"transform": [{"filter": "datum.series == 'SUT_A'"}], "mark": {"type": "point", "shape": "circle", "filled": true, "size": 22, "color": "#000000", "opacity": 1}},
   {"transform": [{"filter": "datum.series == 'PBO'"}], "mark": {"type": "errorbar", "ticks": true, "size": 14, "thickness": 2}, "encoding": {"y": {"field": "lo", "type": "quantitative", "title": "Mean (SE) Bilirubin (umol/L)", "scale": {"domain": [8.2, 46.9], "nice": false, "zero": false}}, "y2": {"field": "hi"}, "color": {"value": "#e8242b"}, "opacity": {"value": 1}}},
   {"transform": [{"filter": "datum.series == 'SUT_B' && isValid(datum.lo)"}], "mark": {"type": "errorbar", "ticks": true, "size": 14, "thickness": 2}, "encoding": {"y": {"field": "lo", "type": "quantitative", "title": "Mean (SE) Bilirubin (umol/L)", "scale": {"domain": [8.2, 46.9], "nice": false, "zero": false}}, "y2": {"field": "hi"}, "color": {"value": "#2c4ea3"}, "opacity": {"value": 1}}},
   {"transform": [{"filter": "(datum.series == 'PBO' || datum.series == 'SUT_B') && datum.week <= 79"}], "mark": {"type": "line", "strokeWidth": 2.8}, "encoding": {"color": {"field": "series", "type": "nominal", "scale": {"domain": ["PBO", "SUT_B", "SUT_A"], "range": ["#e8242b", "#2c4ea3", "#000000"]}, "legend": {"title": "Placebo Arm:", "orient": "none", "legendX": -5, "legendY": -62, "direction": "horizontal", "titleOrient": "left", "values": ["PBO", "SUT_B"], "labelExpr": "datum.value == 'PBO' ? 'PBO' : 'SUT'", "symbolType": "M-1,0H1M-0.35,0.28L0,-0.3L0.35,0.28Z", "symbolSize": 500, "symbolStrokeWidth": 2, "titleFont": "Liberation Sans", "titleFontSize": 14, "titleFontWeight": "normal", "titleColor": "#222", "labelFont": "Liberation Sans", "labelFontSize": 14, "labelColor": "#222", "labelOffset": 9, "columnPadding": 14, "titlePadding": 2, "encode": {"symbols": {"update": {"fill": {"scale": "color", "field": "value"}, "stroke": {"scale": "color", "field": "value"}}}}}}}},
   {"transform": [{"filter": "datum.series == 'SUT_B' && datum.week >= 79"}], "mark": {"type": "line", "strokeWidth": 2.8, "color": "#2c4ea3", "strokeDash": [21, 7, 100]}},
   {"transform": [{"filter": "datum.series == 'PBO'"}], "mark": {"type": "point", "shape": "triangle-up", "filled": true, "size": 45, "color": "#e8242b", "opacity": 1}},
   {"transform": [{"filter": "datum.series == 'SUT_B'"}], "mark": {"type": "point", "shape": "triangle-up", "filled": true, "size": 30, "color": "#2c4ea3", "opacity": 1}},
   {"data": {"name": "annB"}, "transform": [{"filter": "datum.kind == 'brk'"}], "mark": {"type": "text", "fontSize": 15, "fontWeight": "bold", "font": "Liberation Sans", "color": "#000"}, "encoding": {"text": {"field": "label"}}}
  ]
 },
 {"width": 720, "height": 38,
  "layer": [
   {"data": {"name": "nB"}, "transform": [{"filter": "datum.row == 'PBO/SUT (n)'"}], "mark": {"type": "text", "fontSize": 12, "fontWeight": "bold", "font": "Liberation Sans"}, "encoding": {"x": {"field": "week", "type": "quantitative", "scale": {"domain": [-4.7, 90.3], "nice": false, "zero": false}, "axis": null}, "y": {"field": "row", "type": "nominal", "scale": {"domain": ["PBO/SUT (n)", "SUT (n)"]}, "axis": null}, "text": {"field": "n"}, "color": {"field": "grp", "type": "nominal", "scale": {"domain": ["PBO", "SUT_B", "SUT_A"], "range": ["#e8242b", "#2c4ea3", "#000000"]}, "legend": null}}},
   {"data": {"name": "nB"}, "transform": [{"filter": "datum.row == 'SUT (n)'"}], "mark": {"type": "text", "fontSize": 12, "font": "Liberation Sans", "color": "#111"}, "encoding": {"x": {"field": "week", "type": "quantitative", "scale": {"domain": [-4.7, 90.3], "nice": false, "zero": false}, "axis": null}, "y": {"field": "row", "type": "nominal", "scale": {"domain": ["PBO/SUT (n)", "SUT (n)"]}, "axis": null}, "text": {"field": "n"}}},
   {"data": {"name": "rowlab"}, "transform": [{"filter": "datum.part == 'c'"}], "mark": {"type": "text", "fontSize": 11, "fontWeight": "bold", "font": "Liberation Sans", "align": "right", "color": "#111"}, "encoding": {"x": {"datum": -2.4, "type": "quantitative"}, "y": {"field": "row", "type": "nominal"}, "text": {"field": "text"}}},
   {"data": {"name": "rowlab"}, "transform": [{"filter": "datum.part == 'b'"}], "mark": {"type": "text", "fontSize": 11, "fontWeight": "bold", "font": "Liberation Sans", "align": "right", "color": "#2c4ea3", "dx": -18}, "encoding": {"x": {"datum": -2.4, "type": "quantitative"}, "y": {"field": "row", "type": "nominal"}, "text": {"field": "text"}}},
   {"data": {"name": "rowlab"}, "transform": [{"filter": "datum.part == 'a'"}], "mark": {"type": "text", "fontSize": 11, "fontWeight": "bold", "font": "Liberation Sans", "align": "right", "color": "#e8242b", "dx": -43}, "encoding": {"x": {"datum": -2.4, "type": "quantitative"}, "y": {"field": "row", "type": "nominal"}, "text": {"field": "text"}}}
  ]
 }
 ]
}
]
}
